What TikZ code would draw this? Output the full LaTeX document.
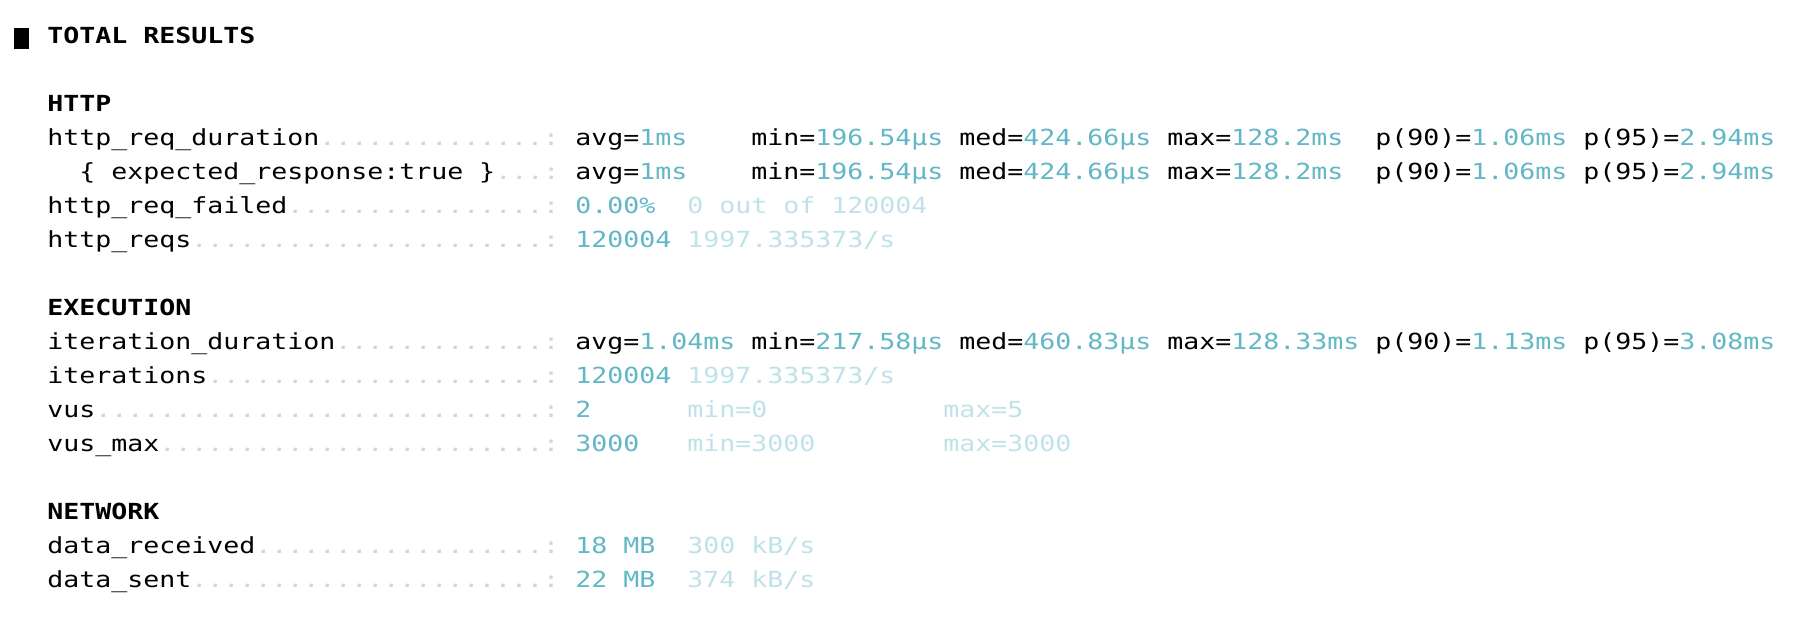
\documentclass[tikz,border=0pt]{standalone}
\usepackage{fontspec}
\setmainfont{DejaVu Sans Mono}[FakeStretch=1.2]
\definecolor{k6teal}{HTML}{62B7C6}
\definecolor{k6pale}{HTML}{BFE2E8}
\definecolor{k6dots}{HTML}{D4D4D4}
\newcommand\valc[1]{\textcolor{k6teal}{#1}}
\newcommand\subc[1]{\textcolor{k6pale}{#1}}
\newcommand\dotc[1]{\textcolor{k6dots}{#1}}
\tikzset{
  term/.style={anchor=base west, inner sep=0pt, font=\fontsize{11.07}{13}\selectfont},
  head/.style={term, font=\fontsize{11.07}{13}\selectfont\bfseries},
}
\begin{document}
\begin{tikzpicture}[x=8pt,y=-17pt]
  \useasboundingbox (-2.9375,-1.279) rectangle (109.6875,17.368);
  \node[fill=black, inner sep=0pt, minimum width=7.5pt, minimum height=10.5pt] (mark) at (-1.59,-0.15) {};
  \node[head] (title) at (0,0) {TOTAL RESULTS};
  % HTTP
  \node[head] (http) at (0,2) {HTTP};
  \path
    (0,3) node[term] (dur) {http\_req\_duration\dotc{..............:}}
    (33,3) node[term] (dur-avg) {avg=\valc{1ms}}
    (44,3) node[term] (dur-min) {min=\valc{196.54µs}}
    (57,3) node[term] (dur-med) {med=\valc{424.66µs}}
    (70,3) node[term] (dur-max) {max=\valc{128.2ms}}
    (83,3) node[term] (dur-p90) {p(90)=\valc{1.06ms}}
    (96,3) node[term] (dur-p95) {p(95)=\valc{2.94ms}};
  \path
    (2,4) node[term] (exp) {\{ expected\_response:true \}\dotc{...:}}
    (33,4) node[term] (exp-avg) {avg=\valc{1ms}}
    (44,4) node[term] (exp-min) {min=\valc{196.54µs}}
    (57,4) node[term] (exp-med) {med=\valc{424.66µs}}
    (70,4) node[term] (exp-max) {max=\valc{128.2ms}}
    (83,4) node[term] (exp-p90) {p(90)=\valc{1.06ms}}
    (96,4) node[term] (exp-p95) {p(95)=\valc{2.94ms}};
  \path
    (0,5) node[term] (fail) {http\_req\_failed\dotc{................:}}
    (33,5) node[term] (fail-rate) {\valc{0.00\%}}
    (40,5) node[term] (fail-count) {\subc{0 out of 120004}};
  \path
    (0,6) node[term] (reqs) {http\_reqs\dotc{......................:}}
    (33,6) node[term] (reqs-count) {\valc{120004}}
    (40,6) node[term] (reqs-rate) {\subc{1997.335373/s}};
  % EXECUTION
  \node[head] (exec) at (0,8) {EXECUTION};
  \path
    (0,9) node[term] (iter) {iteration\_duration\dotc{.............:}}
    (33,9) node[term] (iter-avg) {avg=\valc{1.04ms}}
    (44,9) node[term] (iter-min) {min=\valc{217.58µs}}
    (57,9) node[term] (iter-med) {med=\valc{460.83µs}}
    (70,9) node[term] (iter-max) {max=\valc{128.33ms}}
    (83,9) node[term] (iter-p90) {p(90)=\valc{1.13ms}}
    (96,9) node[term] (iter-p95) {p(95)=\valc{3.08ms}};
  \path
    (0,10) node[term] (its) {iterations\dotc{.....................:}}
    (33,10) node[term] (its-count) {\valc{120004}}
    (40,10) node[term] (its-rate) {\subc{1997.335373/s}};
  \path
    (0,11) node[term] (vus) {vus\dotc{............................:}}
    (33,11) node[term] (vus-now) {\valc{2}}
    (40,11) node[term] (vus-min) {\subc{min=0}}
    (56,11) node[term] (vus-max) {\subc{max=5}};
  \path
    (0,12) node[term] (vmax) {vus\_max\dotc{........................:}}
    (33,12) node[term] (vmax-now) {\valc{3000}}
    (40,12) node[term] (vmax-min) {\subc{min=3000}}
    (56,12) node[term] (vmax-max) {\subc{max=3000}};
  % NETWORK
  \node[head] (net) at (0,14) {NETWORK};
  \path
    (0,15) node[term] (recv) {data\_received\dotc{..................:}}
    (33,15) node[term] (recv-size) {\valc{18 MB}}
    (40,15) node[term] (recv-rate) {\subc{300 kB/s}};
  \path
    (0,16) node[term] (sent) {data\_sent\dotc{......................:}}
    (33,16) node[term] (sent-size) {\valc{22 MB}}
    (40,16) node[term] (sent-rate) {\subc{374 kB/s}};
\end{tikzpicture}
\end{document}
